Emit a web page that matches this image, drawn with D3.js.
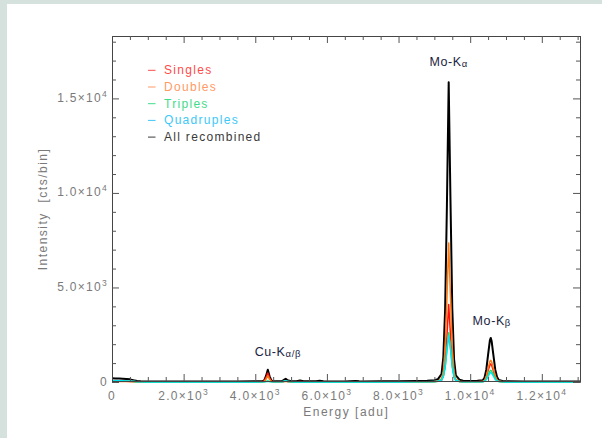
<!DOCTYPE html>
<html><head><meta charset="utf-8">
<script src="https://cdn.jsdelivr.net/npm/d3@7"></script>
<style>body{margin:0;background:#fff;} svg{display:block;}</style>
</head><body><svg id="c" width="602" height="438"></svg>
<script>
// ---------------- data ----------------
const energy = [0,100,200,300,400,500,600,700,800,1000,
 1500,2000,2500,3000,3500,4000,4200,4250,4300,4350,
 4400,4450,4500,4650,4750,4800,4850,4900,5000,5150,
 5250,5350,5500,5700,5800,5900,6100,6500,6800,6900,
 7000,7500,8000,8500,8800,9000,9100,9200,9250,9300,
 9350,9400,9450,9500,9550,9600,9700,9800,10000,10200,
 10350,10400,10450,10500,10550,10575,10600,10650,10700,10750,
 10800,10900,11000,11500,12000,12500,13000,13080];

const allRecombined = [200,190,180,170,160,140,90,50,35,30,
 25,25,25,25,30,35,45,90,320,650,
 300,80,45,40,50,110,170,90,45,40,
 75,40,35,35,70,35,30,30,55,35,
 30,35,40,55,70,95,150,420,1300,3800,
 9300,15850,9600,3900,1200,350,120,70,55,60,
 90,220,650,1450,2200,2330,2150,1400,650,260,
 110,55,40,30,25,25,20,20];

const singles = [40,40,40,35,35,30,20,12,10,8,
 6,6,6,6,8,10,15,50,230,480,
 210,50,15,12,15,30,50,25,12,10,
 20,10,8,8,15,8,6,6,12,8,
 6,6,8,10,15,20,35,100,320,950,
 2400,4100,2500,1000,300,90,30,15,10,12,
 20,60,250,600,900,960,880,580,260,90,
 35,12,8,6,5,5,4,4];

const doubles = [30,30,30,28,25,22,15,10,8,7,
 6,6,6,6,7,9,12,30,150,330,
 140,30,12,10,12,25,40,20,10,8,
 15,8,7,7,12,7,6,6,10,7,
 6,7,9,12,18,25,50,170,560,1750,
 4400,7350,4500,1800,520,140,40,18,12,14,
 25,80,300,720,1090,1150,1060,700,310,110,
 40,14,9,7,6,5,5,5];

const triples = [50,50,48,45,42,38,25,12,8,5,
 4,4,4,4,5,6,8,12,30,60,
 30,12,8,8,12,35,60,30,8,6,
 10,6,5,5,8,5,4,4,6,4,
 4,5,6,8,12,18,35,100,280,750,
 1700,2600,1800,800,260,80,25,10,8,10,
 15,45,150,360,580,620,570,380,170,60,
 22,8,5,4,4,3,3,3];

const quadruples = [65,65,62,60,58,52,35,15,8,5,
 4,4,4,4,5,6,8,10,20,35,
 20,10,8,8,14,40,70,35,8,6,
 10,6,5,5,8,5,4,4,6,4,
 4,5,6,8,12,20,40,110,300,780,
 1650,2450,1750,820,280,90,28,10,8,10,
 14,40,130,300,470,500,460,310,140,50,
 20,8,5,4,4,3,3,3];

const seriesNames  = ["Singles","Doubles","Triples","Quadruples","All recombined"];
const seriesValues = [singles, doubles, triples, quadruples, allRecombined];
const lineColors   = ["#ff1010","#ff7a10","#10e070","#00e4f0","#000000"];
const legendColors = ["#ff4a4a","#ff9a66","#3fdc8c","#3cc8f8","#3a3a3a"];

const xTickValues = [0,2000,4000,6000,8000,10000,12000];
const xTickLabels = ["0","2.0×10^3","4.0×10^3","6.0×10^3","8.0×10^3","1.0×10^4","1.2×10^4"];
const yTickValues = [0,5000,10000,15000];
const yTickLabels = ["0","5.0×10^3","1.0×10^4","1.5×10^4"];

const peakNames  = ["Cu-K","Mo-K","Mo-K"];
const peakGreek  = ["α/β","α","β"];
const peakEnergy = [4350, 9400, 10575];
const peakValue  = [650, 15850, 2330];

// ---------------- layout ----------------
const svg = d3.select("#c");
const X0 = 112, X1 = 580.5, Y0 = 382, Y1 = 36;
const x = d3.scaleLinear().domain([0, 13080]).range([X0, X1]);
const y = d3.scaleLinear().domain([0, 18300]).range([Y0, Y1]);
const FONT = "'Liberation Sans', Arial, Helvetica, sans-serif";

// background strips
svg.append("rect").attr("x",0).attr("y",0).attr("width",602).attr("height",438).attr("fill","#fff");
svg.append("rect").attr("x",0).attr("y",0).attr("width",602).attr("height",4).attr("fill","#d5e1dd");
svg.append("rect").attr("x",0).attr("y",0).attr("width",7).attr("height",438).attr("fill","#d5e1dd");

// clip
svg.append("clipPath").attr("id","plot").append("rect")
  .attr("x",X0).attr("y",Y1).attr("width",X1-X0).attr("height",Y0-Y1+2);

// data lines
const order = [4,0,1,2,3];
const gData = svg.append("g").attr("clip-path","url(#plot)");
order.forEach(k => {
  const vals = seriesValues[k];
  const line = d3.line().x((d,i)=>x(energy[i])).y(d=>y(d));
  gData.append("path").datum(vals).attr("d", line)
    .attr("fill","none").attr("stroke", lineColors[k])
    .attr("stroke-width", k===4 ? 2 : 1.5).attr("stroke-linejoin","round");
});

// axes
const xMinor = d3.range(0, 13080, 500).filter(v => v % 2000 !== 0);
const yMinor = d3.range(0, 18300, 1000).filter(v => v % 5000 !== 0);
const axisColor = "#454545";

function styleAxis(g){
  g.selectAll(".domain").attr("stroke", axisColor).attr("stroke-width",1);
  g.selectAll(".tick line").attr("stroke", "#555");
  g.selectAll("text").remove();
}
function minor(g){ g.select(".domain").remove(); g.selectAll(".tick line").attr("stroke","#555"); g.selectAll("text").remove(); }

const gB = svg.append("g").attr("transform",`translate(0,${381})`)
  .call(d3.axisBottom(x).tickValues(xTickValues).tickSize(-7).tickSizeOuter(0)); styleAxis(gB);
svg.append("g").attr("transform",`translate(0,${381})`).call(d3.axisBottom(x).tickValues(xMinor).tickSize(-4)).call(minor);
const gT = svg.append("g").attr("transform",`translate(0,${Y1})`)
  .call(d3.axisTop(x).tickValues(xTickValues).tickSize(-7).tickSizeOuter(0)); styleAxis(gT);
svg.append("g").attr("transform",`translate(0,${Y1})`).call(d3.axisTop(x).tickValues(xMinor).tickSize(-4)).call(minor);
const gL = svg.append("g").attr("transform",`translate(${X0},0)`)
  .call(d3.axisLeft(y).tickValues(yTickValues).tickSize(-7).tickSizeOuter(0)); styleAxis(gL);
svg.append("g").attr("transform",`translate(${X0},0)`).call(d3.axisLeft(y).tickValues(yMinor).tickSize(-4)).call(minor);
const gR = svg.append("g").attr("transform",`translate(${580},0)`)
  .call(d3.axisRight(y).tickValues(yTickValues).tickSize(-7).tickSizeOuter(0)); styleAxis(gR);
svg.append("g").attr("transform",`translate(${580},0)`).call(d3.axisRight(y).tickValues(yMinor).tickSize(-4)).call(minor);

// tick labels with superscripts
function sciLabel(t, s){
  const parts = s.split("^");
  t.append("tspan").text(parts[0]);
  if (parts.length > 1) t.append("tspan").attr("dy","-5").attr("font-size","8.5px").text(parts[1]);
}
const labelColor = "#7a7a7a";
xTickValues.forEach((v,i) => {
  const t = svg.append("text").attr("x", x(v)).attr("y", 400)
    .attr("text-anchor","middle").attr("font-family",FONT).attr("font-size","12px")
    .attr("letter-spacing","1.3px").attr("fill",labelColor);
  sciLabel(t, xTickLabels[i]);
});
yTickValues.forEach((v,i) => {
  const t = svg.append("text").attr("x", 108).attr("y", y(v)+3.5)
    .attr("text-anchor","end").attr("font-family",FONT).attr("font-size","12px")
    .attr("letter-spacing","1.3px").attr("fill",labelColor);
  sciLabel(t, yTickLabels[i]);
});

// axis titles
svg.append("text").attr("x",(X0+X1)/2).attr("y",416).attr("text-anchor","middle")
  .attr("font-family",FONT).attr("font-size","12px").attr("letter-spacing","1.5px")
  .attr("fill",labelColor).text("Energy [adu]");
svg.append("text").attr("transform",`translate(47,${(Y0+Y1)/2}) rotate(-90)`).attr("text-anchor","middle")
  .attr("font-family",FONT).attr("font-size","12px").attr("letter-spacing","1.5px")
  .attr("fill",labelColor).attr("xml:space","preserve").style("white-space","pre").text("Intensity  [cts/bin]");

// peak annotations
const annOffset = [[10,-14],[0,-16],[1,-12.5]];
peakNames.forEach((n,i) => {
  const t = svg.append("text").attr("x", x(peakEnergy[i]) + annOffset[i][0]).attr("y", y(peakValue[i]) + annOffset[i][1])
    .attr("text-anchor","middle").attr("font-family",FONT).attr("font-size","12.5px")
    .attr("letter-spacing","0.6px").attr("fill","#1b2342");
  t.append("tspan").text(n);
  t.append("tspan").attr("font-size","9.5px").attr("dy","1").text(peakGreek[i]);
});

// legend
seriesNames.forEach((n,i) => {
  const by = 74.3 + i*16.7;
  svg.append("line").attr("x1",148).attr("x2",155.5).attr("y1",by-4).attr("y2",by-4)
    .attr("stroke",legendColors[i]).attr("stroke-width",1);
  svg.append("text").attr("x",164).attr("y",by).attr("font-family",FONT).attr("font-size","12px")
    .attr("letter-spacing","1.3px").attr("fill",legendColors[i]).text(n);
});
</script></body></html>
